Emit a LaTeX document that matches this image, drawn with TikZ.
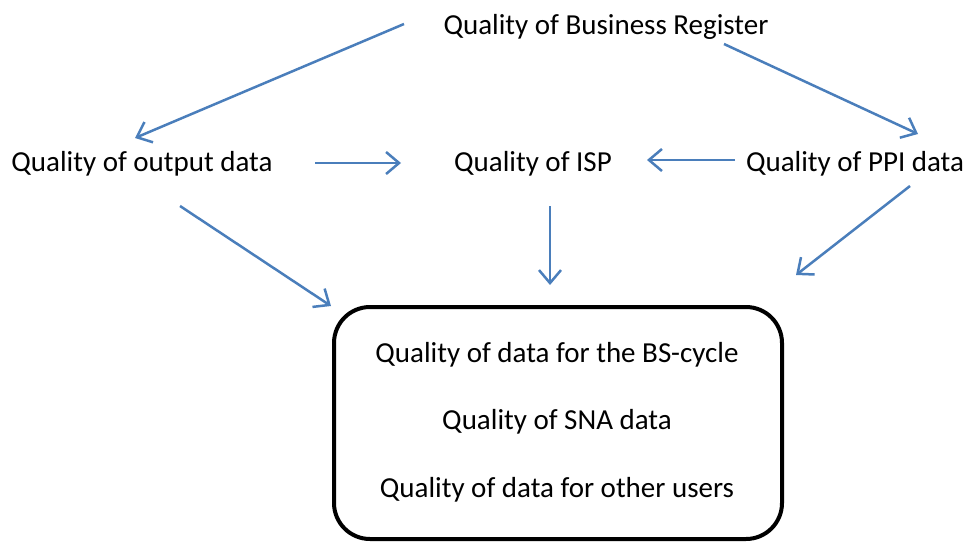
\documentclass[tikz,border=0pt]{standalone}
\usepackage{fontspec}
\setmainfont{Carlito}
\usetikzlibrary{arrows.meta}
\definecolor{arrowblue}{HTML}{4A7EBB}
\tikzset{
  lbl/.style={inner sep=0pt, font=\fontsize{29}{35}\selectfont, anchor=base},
  conn/.style={draw=arrowblue, line width=2.5pt, -{Straight Barb[length=13pt,width=22pt,line width=2.5pt]}},
  outbox/.style={draw=black, line width=4pt, rounded corners=36pt, minimum width=448pt, minimum height=232pt, inner sep=0pt}
}
\begin{document}
\begin{tikzpicture}[x=1pt,y=-1pt]
\useasboundingbox (0,0) rectangle (968,543);
% text nodes
\node[lbl] (br) at (606,35) {Quality of Business Register};
\node[lbl] (out) at (142,171) {Quality of output data};
\node[lbl] (isp) at (533,171) {Quality of ISP};
\node[lbl] (ppi) at (855,171) {Quality of PPI data};
\node[outbox] (box) at (558,423) {};
\node[lbl] (l1) at (557,362) {Quality of data for the BS-cycle};
\node[lbl] (l2) at (557,429) {Quality of SNA data};
\node[lbl] (l3) at (557,497) {Quality of data for other users};
% connector end points
\coordinate (a1s) at (404,24);  \coordinate (a1e) at (135,138);
\coordinate (a2s) at (724,44);  \coordinate (a2e) at (918,134);
\coordinate (a3s) at (315,163); \coordinate (a3e) at (401,163);
\coordinate (a4s) at (735,160); \coordinate (a4e) at (647,160);
\coordinate (a5s) at (180,206); \coordinate (a5e) at (331,306);
\coordinate (a6s) at (550,206); \coordinate (a6e) at (550,285);
\coordinate (a7s) at (910,186); \coordinate (a7e) at (796,275);
\draw[conn] (a1s) -- (a1e);
\draw[conn] (a2s) -- (a2e);
\draw[conn] (a3s) -- (a3e);
\draw[conn] (a4s) -- (a4e);
\draw[conn] (a5s) -- (a5e);
\draw[conn] (a6s) -- (a6e);
\draw[conn] (a7s) -- (a7e);
\end{tikzpicture}
\end{document}
